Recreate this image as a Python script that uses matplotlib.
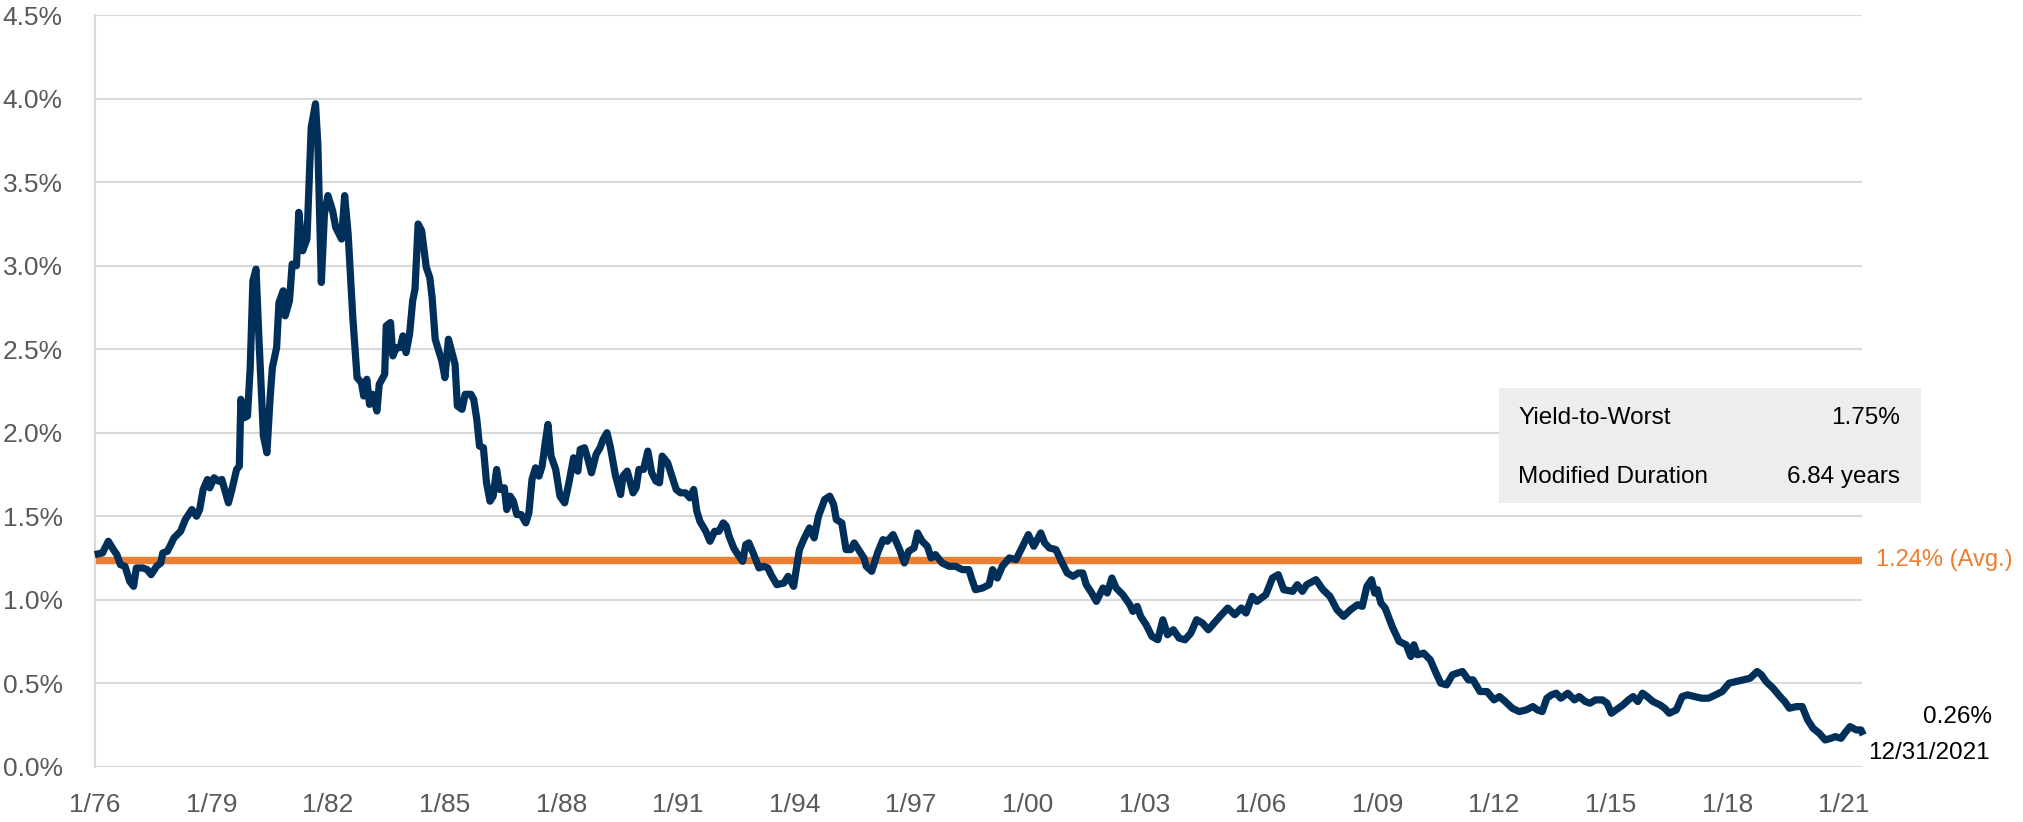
import matplotlib
matplotlib.use('Agg')
import matplotlib.pyplot as plt
from matplotlib import font_manager
from matplotlib.patches import Rectangle

# yield series (decimal year, percent)
dates = [
    1976.00, 1976.20, 1976.35, 1976.48, 1976.57, 1976.66, 1976.78, 1976.90, 1977.00, 1977.07,
    1977.24, 1977.35, 1977.45, 1977.59, 1977.70, 1977.75, 1977.87, 1978.04, 1978.21, 1978.33,
    1978.50, 1978.62, 1978.70, 1978.79, 1978.90, 1978.96, 1979.07, 1979.19, 1979.27, 1979.44,
    1979.53, 1979.65, 1979.72, 1979.76, 1979.85, 1979.93, 1980.00, 1980.07, 1980.15, 1980.22,
    1980.34, 1980.43, 1980.51, 1980.57, 1980.68, 1980.74, 1980.85, 1980.90, 1981.01, 1981.08,
    1981.19, 1981.25, 1981.35, 1981.46, 1981.57, 1981.68, 1981.74, 1981.83, 1981.91, 1982.00,
    1982.12, 1982.20, 1982.35, 1982.43, 1982.52, 1982.64, 1982.75, 1982.86, 1982.92, 1983.00,
    1983.07, 1983.15, 1983.26, 1983.32, 1983.46, 1983.50, 1983.61, 1983.67, 1983.76, 1983.86,
    1983.93, 1984.01, 1984.10, 1984.18, 1984.24, 1984.32, 1984.41, 1984.53, 1984.62, 1984.68,
    1984.76, 1984.93, 1985.01, 1985.10, 1985.27, 1985.33, 1985.45, 1985.53, 1985.68, 1985.75,
    1985.83, 1985.90, 1986.00, 1986.08, 1986.17, 1986.25, 1986.34, 1986.42, 1986.54, 1986.60,
    1986.69, 1986.77, 1986.86, 1986.97, 1987.09, 1987.17, 1987.25, 1987.34, 1987.43, 1987.51,
    1987.59, 1987.66, 1987.74, 1987.86, 1987.97, 1988.09, 1988.20, 1988.32, 1988.43, 1988.49,
    1988.60, 1988.69, 1988.78, 1988.90, 1989.00, 1989.08, 1989.18, 1989.27, 1989.40, 1989.53,
    1989.59, 1989.70, 1989.85, 1989.93, 1990.00, 1990.12, 1990.23, 1990.33, 1990.44, 1990.53,
    1990.60, 1990.74, 1990.85, 1990.96, 1991.07, 1991.20, 1991.31, 1991.41, 1991.49, 1991.57,
    1991.72, 1991.83, 1991.95, 1992.06, 1992.17, 1992.25, 1992.32, 1992.44, 1992.52, 1992.67,
    1992.75, 1992.83, 1992.94, 1993.09, 1993.21, 1993.32, 1993.40, 1993.55, 1993.73, 1993.84,
    1993.98, 1994.13, 1994.24, 1994.39, 1994.51, 1994.62, 1994.78, 1994.91, 1995.01, 1995.08,
    1995.22, 1995.33, 1995.45, 1995.54, 1995.68, 1995.79, 1995.85, 1995.99, 1996.14, 1996.28,
    1996.39, 1996.54, 1996.71, 1996.83, 1996.94, 1997.08, 1997.17, 1997.29, 1997.42, 1997.52,
    1997.63, 1997.80, 1997.98, 1998.15, 1998.32, 1998.49, 1998.57, 1998.66, 1998.84, 1999.01,
    1999.10, 1999.22, 1999.35, 1999.53, 1999.70, 1999.81, 2000.02, 2000.16, 2000.34, 2000.44,
    2000.56, 2000.73, 2000.87, 2001.02, 2001.17, 2001.31, 2001.42, 2001.51, 2001.65, 2001.77,
    2001.94, 2002.05, 2002.17, 2002.28, 2002.45, 2002.63, 2002.71, 2002.82, 2002.91, 2003.05,
    2003.20, 2003.35, 2003.48, 2003.60, 2003.75, 2003.90, 2004.05, 2004.20, 2004.35, 2004.50,
    2004.65, 2004.80, 2004.95, 2005.15, 2005.33, 2005.50, 2005.62, 2005.78, 2005.90, 2006.13,
    2006.30, 2006.45, 2006.59, 2006.82, 2006.94, 2007.07, 2007.18, 2007.42, 2007.60, 2007.78,
    2007.96, 2008.13, 2008.31, 2008.49, 2008.61, 2008.73, 2008.85, 2008.93, 2009.00, 2009.09,
    2009.20, 2009.38, 2009.56, 2009.74, 2009.86, 2009.94, 2010.03, 2010.19, 2010.36, 2010.51,
    2010.63, 2010.78, 2010.93, 2011.05, 2011.19, 2011.34, 2011.46, 2011.64, 2011.82, 2012.00,
    2012.14, 2012.29, 2012.47, 2012.65, 2012.83, 2013.00, 2013.12, 2013.24, 2013.36, 2013.48,
    2013.60, 2013.72, 2013.90, 2014.07, 2014.19, 2014.35, 2014.47, 2014.61, 2014.79, 2014.91,
    2015.02, 2015.14, 2015.32, 2015.46, 2015.58, 2015.70, 2015.82, 2015.94, 2016.09, 2016.27,
    2016.39, 2016.51, 2016.69, 2016.84, 2016.98, 2017.16, 2017.34, 2017.52, 2017.70, 2017.87,
    2018.05, 2018.23, 2018.41, 2018.59, 2018.77, 2018.88, 2019.00, 2019.18, 2019.36, 2019.48,
    2019.60, 2019.78, 2019.93, 2020.07, 2020.21, 2020.37, 2020.52, 2020.67, 2020.78, 2020.93,
    2021.02, 2021.16, 2021.32, 2021.44, 2021.50,
]
yields = [
    1.27, 1.28, 1.35, 1.30, 1.27, 1.21, 1.20, 1.11, 1.08, 1.19,
    1.19, 1.18, 1.15, 1.20, 1.22, 1.28, 1.29, 1.37, 1.41, 1.48,
    1.54, 1.50, 1.54, 1.66, 1.72, 1.67, 1.73, 1.71, 1.72, 1.58,
    1.66, 1.78, 1.80, 2.20, 2.09, 2.10, 2.39, 2.91, 2.98, 2.59,
    1.98, 1.88, 2.20, 2.39, 2.51, 2.78, 2.85, 2.70, 2.79, 3.01,
    3.00, 3.32, 3.09, 3.16, 3.83, 3.97, 3.73, 2.90, 3.31, 3.42,
    3.33, 3.23, 3.16, 3.42, 3.19, 2.69, 2.33, 2.30, 2.22, 2.32,
    2.17, 2.23, 2.13, 2.29, 2.35, 2.64, 2.66, 2.46, 2.51, 2.51,
    2.58, 2.48, 2.59, 2.79, 2.86, 3.25, 3.21, 2.99, 2.93, 2.81,
    2.56, 2.43, 2.33, 2.56, 2.41, 2.16, 2.14, 2.23, 2.23, 2.20,
    2.08, 1.92, 1.91, 1.70, 1.59, 1.62, 1.78, 1.66, 1.67, 1.54,
    1.62, 1.59, 1.51, 1.51, 1.46, 1.52, 1.72, 1.79, 1.74, 1.80,
    1.94, 2.05, 1.86, 1.78, 1.62, 1.58, 1.70, 1.85, 1.77, 1.90,
    1.91, 1.84, 1.76, 1.87, 1.91, 1.96, 2.00, 1.91, 1.74, 1.63,
    1.74, 1.77, 1.64, 1.67, 1.78, 1.78, 1.89, 1.76, 1.71, 1.70,
    1.86, 1.82, 1.74, 1.66, 1.64, 1.64, 1.61, 1.66, 1.53, 1.47,
    1.41, 1.35, 1.41, 1.41, 1.46, 1.44, 1.38, 1.31, 1.28, 1.23,
    1.33, 1.34, 1.28, 1.19, 1.20, 1.19, 1.15, 1.09, 1.10, 1.14,
    1.08, 1.30, 1.36, 1.43, 1.37, 1.50, 1.60, 1.62, 1.57, 1.48,
    1.46, 1.30, 1.30, 1.34, 1.29, 1.25, 1.20, 1.17, 1.28, 1.36,
    1.35, 1.39, 1.30, 1.22, 1.29, 1.31, 1.40, 1.35, 1.32, 1.25,
    1.27, 1.22, 1.20, 1.20, 1.18, 1.18, 1.12, 1.06, 1.07, 1.09,
    1.18, 1.13, 1.20, 1.25, 1.24, 1.29, 1.39, 1.32, 1.40, 1.34,
    1.31, 1.30, 1.23, 1.16, 1.14, 1.16, 1.16, 1.09, 1.04, 0.99,
    1.07, 1.04, 1.13, 1.07, 1.03, 0.97, 0.93, 0.96, 0.90, 0.85,
    0.78, 0.76, 0.88, 0.79, 0.82, 0.77, 0.76, 0.80, 0.88, 0.86,
    0.82, 0.86, 0.90, 0.95, 0.91, 0.95, 0.92, 1.02, 0.99, 1.03,
    1.13, 1.15, 1.06, 1.05, 1.09, 1.05, 1.09, 1.12, 1.06, 1.02,
    0.94, 0.90, 0.94, 0.97, 0.96, 1.08, 1.12, 1.04, 1.06, 0.98,
    0.95, 0.84, 0.75, 0.73, 0.66, 0.73, 0.67, 0.68, 0.64, 0.56,
    0.50, 0.49, 0.55, 0.56, 0.57, 0.52, 0.52, 0.45, 0.45, 0.40,
    0.42, 0.39, 0.35, 0.33, 0.34, 0.36, 0.34, 0.33, 0.41, 0.43,
    0.44, 0.41, 0.44, 0.40, 0.42, 0.39, 0.38, 0.40, 0.40, 0.38,
    0.32, 0.34, 0.37, 0.40, 0.42, 0.39, 0.44, 0.42, 0.39, 0.37,
    0.35, 0.32, 0.34, 0.42, 0.43, 0.42, 0.41, 0.41, 0.43, 0.45,
    0.50, 0.51, 0.52, 0.53, 0.57, 0.55, 0.51, 0.47, 0.42, 0.39,
    0.35, 0.36, 0.36, 0.28, 0.23, 0.20, 0.16, 0.17, 0.18, 0.17,
    0.20, 0.24, 0.22, 0.22, 0.19,
]

avg_yield = 1.24
tick_years = list(range(1976, 2022, 3))
tick_labels = ['1/%02d' % (y % 100) for y in tick_years]
y_ticks = [0.0, 0.5, 1.0, 1.5, 2.0, 2.5, 3.0, 3.5, 4.0, 4.5]
stats_labels = ['Yield-to-Worst', 'Modified Duration']
stats_values = ['1.75%', '6.84 years']
last_value = '0.26%'
last_date = '12/31/2021'

names = {f.name for f in font_manager.fontManager.ttflist}
if 'Liberation Sans Narrow' in names:
    font = 'Liberation Sans Narrow'
    fs = 23
    fs_box = 22
    fs_avg = 22
else:
    font = 'Liberation Sans'
    fs = 19
    fs_box = 17.5
    fs_avg = 17
plt.rcParams['font.family'] = [font, 'DejaVu Sans']

navy = '#00305a'
orange = '#ed7d31'
grey_txt = '#595959'
grid_c = '#d9d9d9'

fig = plt.figure(figsize=(20.24, 8.22), dpi=100)
ax = fig.add_axes([0.0468, 0.0673, 0.8732, 0.9141])

for v in y_ticks:
    ax.axhline(v, color=grid_c, lw=1.5, zorder=1)
ax.axhline(avg_yield, color=orange, lw=5.3, zorder=2)
ax.plot(dates, yields, color=navy, lw=5.2, zorder=3, clip_on=False,
        solid_joinstyle='round', solid_capstyle='butt')

ax.set_xlim(1976, 2021.47)
ax.set_ylim(0, 4.5)
ax.set_yticks(y_ticks)
ax.set_yticklabels(['%.1f%%' % v for v in y_ticks])
ax.set_xticks(tick_years)
ax.set_xticklabels(tick_labels)
ax.tick_params(axis='both', length=0, labelsize=fs, colors=grey_txt)
ax.tick_params(axis='y', pad=23)
ax.tick_params(axis='x', pad=19)
for s in ['top', 'right', 'bottom']:
    ax.spines[s].set_visible(False)
ax.spines['left'].set_color(grid_c)
ax.spines['left'].set_linewidth(1.5)

ax.text(1.008, avg_yield, '%.2f%% (Avg.)' % avg_yield, color=orange, fontsize=fs_avg,
        va='center', ha='left', transform=ax.get_yaxis_transform())

fig.patches.append(Rectangle((0.7406, 0.388), 0.2085, 0.140, transform=fig.transFigure,
                             facecolor='#ededed', edgecolor='none', zorder=4))
for lab, val, yy in zip(stats_labels, stats_values, [0.4915, 0.4197]):
    fig.text(0.750, yy, lab, fontsize=fs_box, color='black', va='center', ha='left', zorder=5)
    fig.text(0.9387, yy, val, fontsize=fs_box, color='black', va='center', ha='right', zorder=5)

fig.text(0.984, 0.1277, last_value, fontsize=fs_box, color='black', va='center', ha='right')
fig.text(0.983, 0.084, last_date, fontsize=fs_box, color='black', va='center', ha='right')

fig.savefig('out.png', dpi=100)
